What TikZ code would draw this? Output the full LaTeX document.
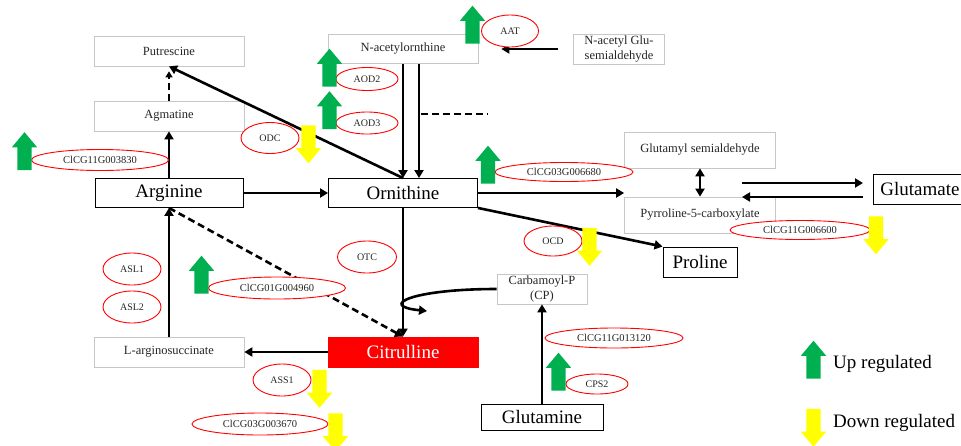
\documentclass[tikz,border=0pt]{standalone}
\usepackage{fontspec}
\setmainfont{Liberation Serif}
\usepackage{tikz}
\usetikzlibrary{shapes.geometric,shapes.arrows,arrows.meta}

\definecolor{upgreen}{RGB}{0,176,80}
\definecolor{dnyellow}{RGB}{255,255,0}
\definecolor{citred}{RGB}{255,0,0}

\begin{document}
\begin{tikzpicture}[
  x=1pt, y=-1pt,
  met/.style={rectangle, draw=black, line width=0.9pt, inner sep=0pt, font=\fontsize{19}{21}\selectfont, minimum width=149, minimum height=29},
  inter/.style={rectangle, draw=black!22, line width=0.7pt, inner sep=0pt, align=center, text=black!85, font=\fontsize{12.5}{14}\selectfont, minimum width=150, minimum height=30},
  enz/.style={ellipse, draw=red, line width=0.9pt, fill=white, inner sep=0pt, text=black!85, font=\fontsize{10}{12}\selectfont, minimum width=58, minimum height=31},
  gene/.style={enz, minimum width=137, minimum height=21, font=\fontsize{10.5}{12}\selectfont},
  uparr/.style={single arrow, shape border rotate=90, fill=upgreen, draw=none, inner sep=7pt, minimum height=38, single arrow head extend=5.5pt, single arrow tip angle=80},
  dnarr/.style={uparr, shape border rotate=270, fill=dnyellow},
  arr/.style={-{Triangle[length=8pt,width=9pt]}, line width=2.6pt},
  dsh/.style={arr, dash pattern=on 7pt off 4pt},
  key/.style={inner sep=0pt, anchor=west, font=\fontsize{19}{21}\selectfont}
]
\useasboundingbox[fill=white] (0,0) rectangle (961,445);
% metabolites
\node[inter] (put) at (169,51) {Putrescine};
\node[inter] (agm) at (169,116) {Agmatine};
\node[met, minimum width=148] (arg) at (169,193) {Arginine};
\node[met] (orn) at (403,193) {Ornithine};
\node[inter, minimum height=29] (nao) at (403,49) {N-acetylornthine};
\node[inter, minimum width=91, font=\fontsize{12.5}{14.5}\selectfont] (ngsa) at (619,49) {N-acetyl Glu-\\semialdehyde};
\node[inter, minimum width=151, minimum height=36] (gsa) at (700,150) {Glutamyl semialdehyde};
\node[inter, minimum width=151, minimum height=36] (p5c) at (700,215) {Pyrroline-5-carboxylate};
\node[met, anchor=west, minimum width=0pt, inner xsep=7pt, minimum height=30, text width=100pt] (glu) at (873,189) {Glutamate};
\node[met, minimum width=74, minimum height=30] (pro) at (700,262) {Proline};
\node[inter, minimum width=90, font=\fontsize{12.5}{14.5}\selectfont] (cp) at (542,289) {Carbamoyl-P\\(CP)};
\node[met, minimum width=122, minimum height=26] (gln) at (542,417) {Glutamine};
\node[inter] (asa) at (169,352) {L-arginosuccinate};
\node[met, draw=citred, fill=citred, text=white, minimum width=150, minimum height=30] (cit) at (403,352) {Citrulline};
% reactions
\draw[arr] (arg) -- (orn);
\draw[arr] (arg) -- (agm);
\draw[dsh, -{Triangle[length=6pt,width=7pt]}, shorten >=5pt] (agm) -- (put);
\draw[arr] (orn.north) -- (put.south);
\draw[arr] (nao.south) -- (orn.north);
\draw[arr] ([xshift=16pt]nao.south) -- ([xshift=16pt]orn.north);
\coordinate (nodash1) at (421,114);
\coordinate (nodash2) at (488,114);
\draw[dsh, -] (nodash1) -- (nodash2);
\draw[arr, shorten <=15pt, shorten >=23pt] (ngsa.west) -- (nao.east);
\draw[arr] (orn.east) -- (orn.east -| gsa.west);
\draw[arr] (orn.south east) -- (pro.north west);
\draw[arr, {Triangle[length=8pt,width=9pt]}-{Triangle[length=8pt,width=9pt]}] (gsa) -- (p5c);
\draw[arr] ([xshift=-131pt,yshift=6pt]glu.west) -- ([xshift=-10pt,yshift=6pt]glu.west);
\draw[arr] ([xshift=-10pt,yshift=-8pt]glu.west) -- ([xshift=-131pt,yshift=-8pt]glu.west);
\draw[arr] (orn) -- (cit);
\draw[dsh] (arg.south) -- (cit.north);
\draw[arr] (asa) -- (arg);
\draw[arr] (cit) -- (asa);
\coordinate (cpin) at (427,311);
\draw[arr] (cp.west) .. controls (410,289) and (378,306) .. (cpin);
\draw[arr] (gln) -- (cp);
% enzymes and genes
\node[enz, minimum width=57, minimum height=32] (aat) at (510,31) {AAT};
\node[enz, minimum width=62, minimum height=23] (aod2) at (367,79) {AOD2};
\node[enz, minimum width=62, minimum height=22] (aod3) at (367,123) {AOD3};
\node[enz] (odc) at (270,138) {ODC};
\node[gene] (g3830) at (100,160) {ClCG11G003830};
\node[gene, minimum width=138, minimum height=19] (g6680) at (564,172) {ClCG03G006680};
\node[gene, minimum width=140, minimum height=19] (g6600) at (800,230) {ClCG11G006600};
\node[enz, minimum height=30] (ocd) at (553,241) {OCD};
\node[enz, minimum width=59, minimum height=32] (otc) at (367,257) {OTC};
\node[enz, minimum height=32] (asl1) at (132,269) {ASL1};
\node[enz, minimum height=32] (asl2) at (132,307) {ASL2};
\node[gene, minimum height=22] (g4960) at (277,288) {ClCG01G004960};
\node[enz, minimum height=32] (ass1) at (282,380) {ASS1};
\node[gene, minimum width=136, minimum height=22] (g3670) at (260,424) {ClCG03G003670};
\node[gene, minimum width=138, minimum height=20] (g3120) at (614,338) {ClCG11G013120};
\node[enz, minimum width=62, minimum height=20] (cps2) at (597,384) {CPS2};
% regulation
\node[uparr] (up1) at (24.5,155.5) {};
\node[uparr] (up2) at (329.5,72) {};
\node[uparr] (up3) at (329.5,114.5) {};
\node[uparr] (up4) at (472.5,29) {};
\node[uparr] (up5) at (488,169) {};
\node[uparr] (up6) at (201.5,279) {};
\node[uparr] (up7) at (558.5,376) {};
\node[dnarr] (dn1) at (308.5,140) {};
\node[dnarr] (dn2) at (589.5,242.5) {};
\node[dnarr] (dn3) at (876,231) {};
\node[dnarr] (dn4) at (319.5,384.5) {};
\node[dnarr] (dn5) at (335.5,428) {};
% legend
\node[uparr] (upkey) at (813.5,364) {};
\node[key] (uptxt) at (833,364) {Up regulated};
\node[dnarr] (dnkey) at (813.5,423.5) {};
\node[key] (dntxt) at (833,423) {Down regulated};
\end{tikzpicture}
\end{document}
